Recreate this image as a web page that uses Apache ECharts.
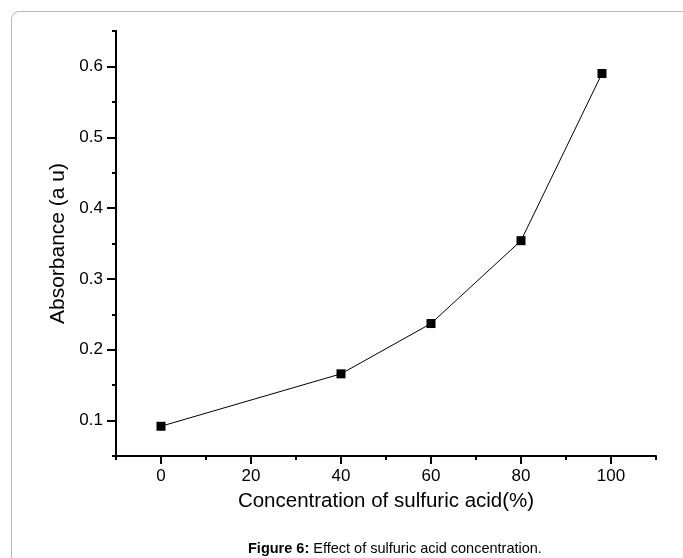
<!DOCTYPE html>
<html>
<head>
<meta charset="utf-8">
<script src="https://cdn.jsdelivr.net/npm/echarts@6/dist/echarts.min.js"></script>
<style>
  html, body { margin: 0; padding: 0; background: #fff; }
  #frame {
    position: absolute; left: 11px; top: 11px; width: 720px; height: 600px;
    border: 1px solid #b9b9b9; border-radius: 8px; box-sizing: border-box;
  }
  #chart { position: absolute; left: 0; top: 0; width: 683px; height: 558px; }
</style>
</head>
<body>
<div id="frame"></div>
<div id="chart"></div>
<script>
// data
const concentration = [0, 40, 60, 80, 98]
const absorbance = [0.092, 0.166, 0.237, 0.354, 0.590]

// axis ticks
const xMajorTicks = [0, 20, 40, 60, 80, 100]
const xMinorTicks = [-10, 10, 30, 50, 70, 90, 110]
const yMajorTicks = [0.1, 0.2, 0.3, 0.4, 0.5, 0.6]
const yMinorTicks = [0.05, 0.15, 0.25, 0.35, 0.45, 0.55, 0.65]

const font = 'Liberation Sans, Arial, sans-serif'
const black = '#000'

const chart = echarts.init(document.getElementById('chart'), null, { renderer: 'canvas' })

const baseX = {
  type: 'value',
  min: -10,
  max: 110,
  position: 'bottom',
  splitLine: { show: false }
}
const baseY = {
  type: 'value',
  min: 0.05,
  max: 0.65,
  position: 'left',
  splitLine: { show: false }
}

const option = {
  animation: false,
  title: {
    text: '{b|Figure 6:} Effect of sulfuric acid concentration.',
    left: 243,
    top: 536,
    textStyle: {
      fontFamily: font,
      fontSize: 14.5,
      fontWeight: 'normal',
      color: black,
      rich: {
        b: { fontFamily: font, fontSize: 14.5, fontWeight: 'bold', color: black }
      }
    }
  },
  grid: { left: 116, right: 27, top: 31, bottom: 102 },
  xAxis: [
    Object.assign({}, baseX, {
      name: 'Concentration of sulfuric acid(%)',
      nameLocation: 'middle',
      nameGap: 35,
      nameTextStyle: { fontFamily: font, fontSize: 20.5, color: black },
      axisLine: { onZero: false, lineStyle: { color: black, width: 2 } },
      axisTick: { customValues: xMajorTicks, length: 8, lineStyle: { color: black, width: 2 } },
      axisLabel: { customValues: xMajorTicks, margin: 12, fontFamily: font, fontSize: 17, color: black }
    }),
    Object.assign({}, baseX, {
      axisLine: { show: false, onZero: false },
      axisTick: { customValues: xMinorTicks, length: 4, lineStyle: { color: black, width: 2 } },
      axisLabel: { show: false }
    })
  ],
  yAxis: [
    Object.assign({}, baseY, {
      name: 'Absorbance (a u)',
      nameLocation: 'middle',
      nameGap: 46,
      nameTextStyle: { fontFamily: font, fontSize: 21, color: black },
      axisLine: { onZero: false, lineStyle: { color: black, width: 2 } },
      axisTick: { customValues: yMajorTicks, length: 9, lineStyle: { color: black, width: 2 } },
      axisLabel: { customValues: yMajorTicks, margin: 13, fontFamily: font, fontSize: 17, color: black }
    }),
    Object.assign({}, baseY, {
      axisLine: { show: false, onZero: false },
      axisTick: { customValues: yMinorTicks, length: 4, lineStyle: { color: black, width: 2 } },
      axisLabel: { show: false }
    })
  ],
  series: [
    {
      type: 'line',
      xAxisIndex: 0,
      yAxisIndex: 0,
      data: concentration.map((c, i) => [c, absorbance[i]]),
      symbol: 'rect',
      symbolSize: 9,
      itemStyle: { color: black },
      lineStyle: { color: black, width: 1 }
    }
  ]
}

chart.setOption(option)
</script>
</body>
</html>
